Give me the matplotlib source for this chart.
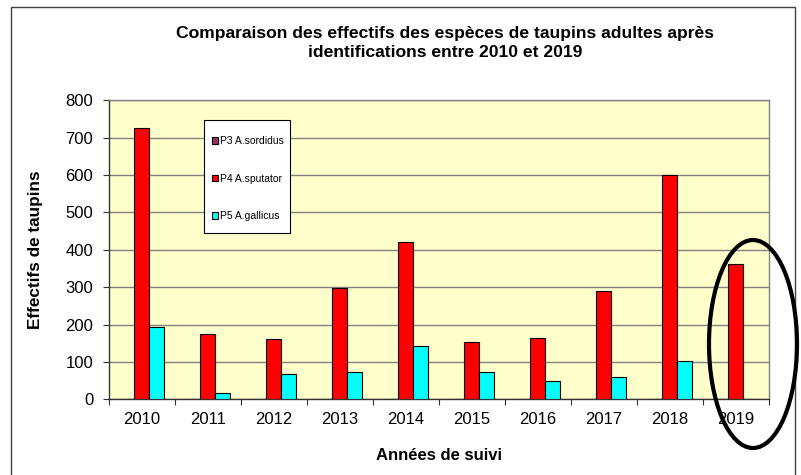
import matplotlib
matplotlib.use("Agg")
import matplotlib.pyplot as plt
import numpy as np
from matplotlib.patches import Rectangle, Ellipse
from matplotlib.ticker import FixedLocator, NullFormatter, FixedFormatter

plt.rcParams['font.family'] = ['Liberation Sans', 'DejaVu Sans']

years = ['2010', '2011', '2012', '2013', '2014', '2015', '2016', '2017', '2018', '2019']
series_names = ['P3 A.sordidus', 'P4 A.sputator', 'P5 A.gallicus']
p3_sordidus = [0, 0, 0, 2, 2, 2, 2, 0, 0, 2]
p4_sputator = [725, 176, 161, 297, 420, 152, 165, 290, 599, 361]
p5_gallicus = [194, 18, 69, 74, 142, 74, 49, 59, 103, 0]
colors = ['#993366', '#FF0000', '#00FFFF']

title = "Comparaison des effectifs des espèces de taupins adultes après\nidentifications entre 2010 et 2019"
xlabel = "Années de suivi"
ylabel = "Effectifs de taupins"

W, H = 801, 475
fig = plt.figure(figsize=(W / 100, H / 100), dpi=100)
fig.patch.set_facecolor('white')

# axes position in pixels
l, r, t, b = 108.5, 769, 100.3, 399.3
ax = fig.add_axes([l / W, 1 - b / H, (r - l) / W, (b - t) / H])
ax.set_facecolor('#FFFFCC')

x = np.arange(len(years))
w = 0.227
handles = []
for i, (vals, c, name) in enumerate(zip([p3_sordidus, p4_sputator, p5_gallicus], colors, series_names)):
    bars = ax.bar(x + (i - 1) * w, vals, width=w, color=c, edgecolor='black',
                  linewidth=0.8, label=name, zorder=3)
    handles.append(bars)

ax.set_xlim(-0.5, len(years) - 0.5)
ax.set_ylim(0, 800)
ax.set_yticks(np.arange(0, 801, 100))
ax.yaxis.grid(True, color='#808080', linewidth=1, zorder=0)
ax.set_axisbelow(True)

# x ticks at category boundaries, labels at centres
ax.xaxis.set_major_locator(FixedLocator(np.arange(-0.5, len(years), 1.0)))
ax.xaxis.set_major_formatter(NullFormatter())
ax.xaxis.set_minor_locator(FixedLocator(x))
ax.xaxis.set_minor_formatter(FixedFormatter(years))
ax.tick_params(axis='x', which='major', length=4, width=0.8, color='#333333', direction='out')
ax.tick_params(axis='x', which='minor', length=0, pad=9, labelsize=12)
ax.tick_params(axis='y', length=4, width=0.8, color='#333333', pad=7, labelsize=12)

for s in ['left', 'bottom']:
    ax.spines[s].set_color('#333333')
    ax.spines[s].set_linewidth(1)
for s in ['top', 'right']:
    ax.spines[s].set_color('#808080')
    ax.spines[s].set_linewidth(1)

ax.set_xlabel(xlabel, fontsize=12, fontweight='bold', labelpad=15)
ax.set_ylabel(ylabel, fontsize=12.3, fontweight='bold', labelpad=16)

fig.text(445 / W, 1 - 43 / H, title, ha='center', va='center', fontsize=12.6,
         fontweight='bold', linespacing=1.3)

# legend box (white frame) and entries
ax.add_patch(Rectangle((204 / W, 1 - 233 / H), 86 / W, 113 / H,
                       transform=fig.transFigure, facecolor='white',
                       edgecolor='black', linewidth=0.8, zorder=6, clip_on=False))
leg = ax.legend(handles=handles, loc='upper left',
                bbox_to_anchor=(212 / W, 1 - 136 / H), bbox_transform=fig.transFigure,
                fontsize=7.5, frameon=False, handlelength=0.6, handleheight=0.6,
                handletextpad=0.15, labelspacing=2.65, borderpad=0, borderaxespad=0)
leg.set_zorder(7)

# outer chart border
fig.patches.append(Rectangle((11 / W, -0.05), (795 - 11) / W, 1.05 - 7 / H,
                             transform=fig.transFigure, fill=False,
                             edgecolor='#404040', linewidth=1))
# highlight ellipse around 2019
fig.patches.append(Ellipse((753 / W, 1 - 344 / H), 88 / W, 208 / H,
                           transform=fig.transFigure, fill=False,
                           edgecolor='black', linewidth=3))

fig.savefig('out.png', dpi=100)
